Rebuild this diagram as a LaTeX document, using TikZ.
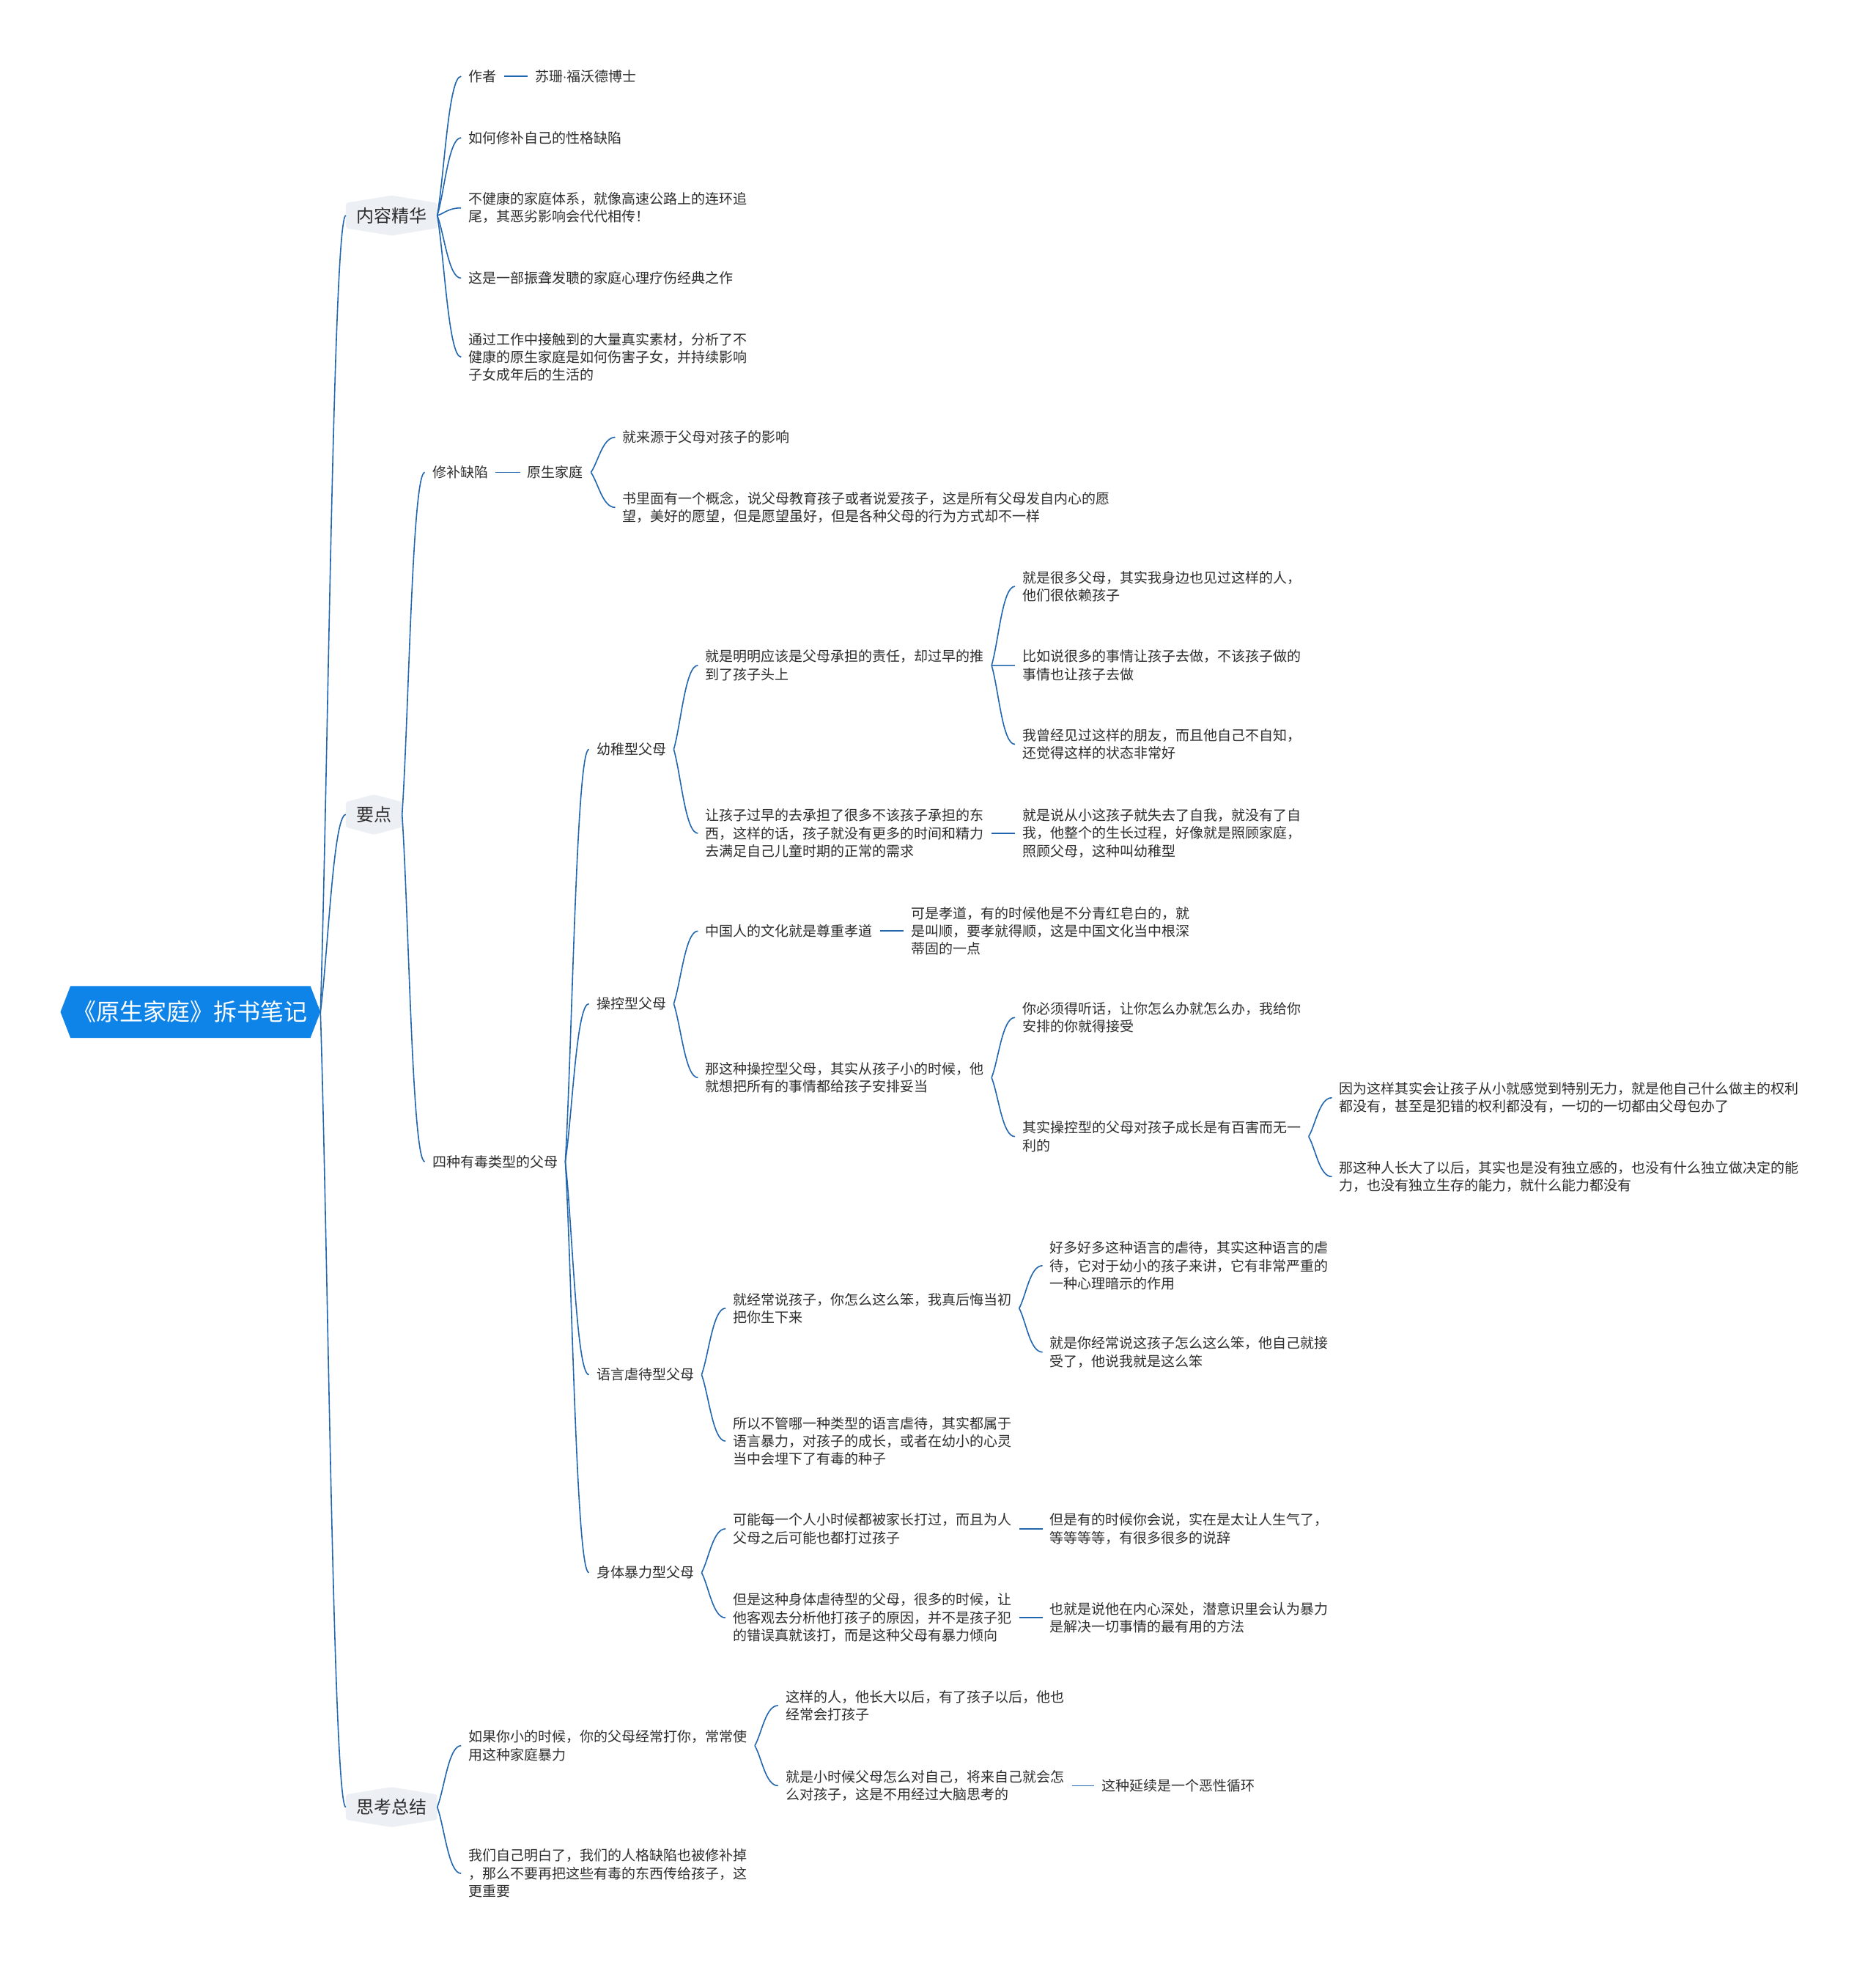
\documentclass[tikz,border=0pt]{standalone}
\usepackage{fontspec}
\setmainfont{Noto Sans CJK SC}
\newfontfamily\dotfont{DejaVu Sans}
\usetikzlibrary{calc,backgrounds}
\begin{document}
\begin{tikzpicture}[x=0.855pt,y=-0.855pt,
  leaf/.style={anchor=west,inner xsep=5pt,inner ysep=2pt,align=left,text=maptext,yshift=-0.8pt,
    font=\fontsize{9.5pt}{12.2pt}\selectfont},
  topic/.style={anchor=west,inner xsep=7pt,inner ysep=0pt,minimum height=27pt,text=maptext,
    font=\fontsize{12pt}{14pt}\selectfont},
  link/.style={draw=mapblue,line width=0.8pt,
    to path={.. controls ($(\tikztostart)!0.3!(\tikztotarget)$) and ($(\tikztotarget)+(-10,0)$) .. (\tikztotarget)}},
  bar/.style={draw=mapblue,line width=0.9pt}]
  \definecolor{mapblue}{HTML}{2166AE}
  \definecolor{rootblue}{HTML}{0F84E8}
  \definecolor{topicfill}{HTML}{ECEFF4}
  \definecolor{maptext}{HTML}{2E2E2E}
  \useasboundingbox (0,0) rectangle (1497,1568);
  % centre and main topics
  \node[text=white,font=\fontsize{16pt}{18pt}\selectfont,minimum width=177pt,minimum height=35pt,inner sep=0pt]
    (bookroot) at (152,807.5) {《原生家庭》拆书笔记};
  \node[topic] (jinghua) at (276,172) {内容精华};
  \node[topic] (yaodian) at (276,650) {要点};
  \node[topic] (zongjie) at (276,1442) {思考总结};
  % 内容精华
  \node[leaf] (zuozhe) at (368,60) {作者};
  \node[leaf] (sushan) at (421,60) {苏珊{\dotfont\fontsize{8pt}{10pt}\selectfont ·}福沃德博士};
  \node[leaf] (xiubu) at (368,109) {如何修补自己的性格缺陷};
  \node[leaf] (tixi) at (368,165) {不健康的家庭体系，就像高速公路上的连环追\\尾，其恶劣影响会代代相传！};
  \node[leaf] (jingdian) at (368,221) {这是一部振聋发聩的家庭心理疗伤经典之作};
  \node[leaf] (sucai) at (368,284) {通过工作中接触到的大量真实素材，分析了不\\健康的原生家庭是如何伤害子女，并持续影响\\子女成年后的生活的};
  % 要点
  \node[leaf] (xbqx) at (339,376) {修补缺陷};
  \node[leaf] (ysjt) at (415,376) {原生家庭};
  \node[leaf] (laiyuan) at (491,348) {就来源于父母对孩子的影响};
  \node[leaf] (gainian) at (491,404) {书里面有一个概念，说父母教育孩子或者说爱孩子，这是所有父母发自内心的愿\\望，美好的愿望，但是愿望虽好，但是各种父母的行为方式却不一样};
  \node[leaf] (sizhong) at (339,926) {四种有毒类型的父母};
  \node[leaf] (youzhi) at (470,597) {幼稚型父母};
  \node[leaf] (tuidao) at (557,530) {就是明明应该是父母承担的责任，却过早的推\\到了孩子头上};
  \node[leaf] (yilai) at (810,467) {就是很多父母，其实我身边也见过这样的人，\\他们很依赖孩子};
  \node[leaf] (quzuo) at (810,530) {比如说很多的事情让孩子去做，不该孩子做的\\事情也让孩子去做};
  \node[leaf] (zizhi) at (810,593) {我曾经见过这样的朋友，而且他自己不自知，\\还觉得这样的状态非常好};
  \node[leaf] (chengdan) at (557,664) {让孩子过早的去承担了很多不该孩子承担的东\\西，这样的话，孩子就没有更多的时间和精力\\去满足自己儿童时期的正常的需求};
  \node[leaf] (shiqu) at (810,664) {就是说从小这孩子就失去了自我，就没有了自\\我，他整个的生长过程，好像就是照顾家庭，\\照顾父母，这种叫幼稚型};
  \node[leaf] (caokong) at (470,800) {操控型父母};
  \node[leaf] (xiaodao) at (557,742) {中国人的文化就是尊重孝道};
  \node[leaf] (shun) at (721,742) {可是孝道，有的时候他是不分青红皂白的，就\\是叫顺，要孝就得顺，这是中国文化当中根深\\蒂固的一点};
  \node[leaf] (tuodang) at (557,859) {那这种操控型父母，其实从孩子小的时候，他\\就想把所有的事情都给孩子安排妥当};
  \node[leaf] (tinghua) at (810,811) {你必须得听话，让你怎么办就怎么办，我给你\\安排的你就得接受};
  \node[leaf] (baihai) at (810,906) {其实操控型的父母对孩子成长是有百害而无一\\利的};
  \node[leaf] (wuli) at (1063,875) {因为这样其实会让孩子从小就感觉到特别无力，就是他自己什么做主的权利\\都没有，甚至是犯错的权利都没有，一切的一切都由父母包办了};
  \node[leaf] (duli) at (1063,938) {那这种人长大了以后，其实也是没有独立感的，也没有什么独立做决定的能\\力，也没有独立生存的能力，就什么能力都没有};
  \node[leaf] (yuyan) at (470,1096) {语言虐待型父母};
  \node[leaf] (ben) at (579,1043) {就经常说孩子，你怎么这么笨，我真后悔当初\\把你生下来};
  \node[leaf] (anshi) at (832,1009) {好多好多这种语言的虐待，其实这种语言的虐\\待，它对于幼小的孩子来讲，它有非常严重的\\一种心理暗示的作用};
  \node[leaf] (jieshou) at (832,1078) {就是你经常说这孩子怎么这么笨，他自己就接\\受了，他说我就是这么笨};
  \node[leaf] (zhongzi) at (579,1149) {所以不管哪一种类型的语言虐待，其实都属于\\语言暴力，对孩子的成长，或者在幼小的心灵\\当中会埋下了有毒的种子};
  \node[leaf] (shenti) at (470,1254) {身体暴力型父母};
  \node[leaf] (daguo) at (579,1219) {可能每一个人小时候都被家长打过，而且为人\\父母之后可能也都打过孩子};
  \node[leaf] (shuoci) at (832,1219) {但是有的时候你会说，实在是太让人生气了，\\等等等等，有很多很多的说辞};
  \node[leaf] (qingxiang) at (579,1290) {但是这种身体虐待型的父母，很多的时候，让\\他客观去分析他打孩子的原因，并不是孩子犯\\的错误真就该打，而是这种父母有暴力倾向};
  \node[leaf] (fangfa) at (832,1290) {也就是说他在内心深处，潜意识里会认为暴力\\是解决一切事情的最有用的方法};
  % 思考总结
  \node[leaf] (dani) at (368,1392) {如果你小的时候，你的父母经常打你，常常使\\用这种家庭暴力};
  \node[leaf] (dahaizi) at (621,1360) {这样的人，他长大以后，有了孩子以后，他也\\经常会打孩子};
  \node[leaf] (duizi) at (621,1424) {就是小时候父母怎么对自己，将来自己就会怎\\么对孩子，这是不用经过大脑思考的};
  \node[leaf] (xunhuan) at (873,1424) {这种延续是一个恶性循环};
  \node[leaf] (mingbai) at (368,1494) {我们自己明白了，我们的人格缺陷也被修补掉\\，那么不要再把这些有毒的东西传给孩子，这\\更重要};
  % shapes behind the texts
  \begin{scope}[on background layer]
    \fill[white] (0,0) rectangle (1497,1568);
    \fill[rootblue] (bookroot.west) -- ($(bookroot.north west)+(8,0)$) -- ($(bookroot.north east)+(-8,0)$)
      -- (bookroot.east) -- ($(bookroot.south east)+(-8,0)$) -- ($(bookroot.south west)+(8,0)$) -- cycle;
    \foreach \t in {jinghua,yaodian,zongjie}
      \fill[topicfill,rounded corners=1.5pt] ($(\t.north west)+(0,6)$) -- (\t.north) -- ($(\t.north east)+(0,6)$)
        -- ($(\t.south east)+(0,-6)$) -- (\t.south) -- ($(\t.south west)+(0,-6)$) -- cycle;
  \end{scope}
  % connectors
  \draw[link] (bookroot.east) to (jinghua.west);
  \draw[link] (bookroot.east) to (yaodian.west);
  \draw[link] (bookroot.east) to (zongjie.west);
  \draw[link] (jinghua.east) to (zuozhe.west);
  \draw[link] (jinghua.east) to (xiubu.west);
  \draw[link] (jinghua.east) to (tixi.west);
  \draw[link] (jinghua.east) to (jingdian.west);
  \draw[link] (jinghua.east) to (sucai.west);
  \draw[bar] (zuozhe.east) -- (sushan.west);
  \draw[link] (yaodian.east) to (xbqx.west);
  \draw[link] (yaodian.east) to (sizhong.west);
  \draw[bar] (xbqx.east) -- (ysjt.west);
  \draw[link] (ysjt.east) to (laiyuan.west);
  \draw[link] (ysjt.east) to (gainian.west);
  \draw[link] (sizhong.east) to (youzhi.west);
  \draw[link] (sizhong.east) to (caokong.west);
  \draw[link] (sizhong.east) to (yuyan.west);
  \draw[link] (sizhong.east) to (shenti.west);
  \draw[link] (youzhi.east) to (tuidao.west);
  \draw[link] (youzhi.east) to (chengdan.west);
  \draw[link] (tuidao.east) to (yilai.west);
  \draw[link] (tuidao.east) to (quzuo.west);
  \draw[link] (tuidao.east) to (zizhi.west);
  \draw[bar] (chengdan.east) -- (shiqu.west);
  \draw[link] (caokong.east) to (xiaodao.west);
  \draw[link] (caokong.east) to (tuodang.west);
  \draw[bar] (xiaodao.east) -- (shun.west);
  \draw[link] (tuodang.east) to (tinghua.west);
  \draw[link] (tuodang.east) to (baihai.west);
  \draw[link] (baihai.east) to (wuli.west);
  \draw[link] (baihai.east) to (duli.west);
  \draw[link] (yuyan.east) to (ben.west);
  \draw[link] (yuyan.east) to (zhongzi.west);
  \draw[link] (ben.east) to (anshi.west);
  \draw[link] (ben.east) to (jieshou.west);
  \draw[link] (shenti.east) to (daguo.west);
  \draw[link] (shenti.east) to (qingxiang.west);
  \draw[bar] (daguo.east) -- (shuoci.west);
  \draw[bar] (qingxiang.east) -- (fangfa.west);
  \draw[link] (zongjie.east) to (dani.west);
  \draw[link] (zongjie.east) to (mingbai.west);
  \draw[link] (dani.east) to (dahaizi.west);
  \draw[link] (dani.east) to (duizi.west);
  \draw[bar] (duizi.east) -- (xunhuan.west);
\end{tikzpicture}
\end{document}
